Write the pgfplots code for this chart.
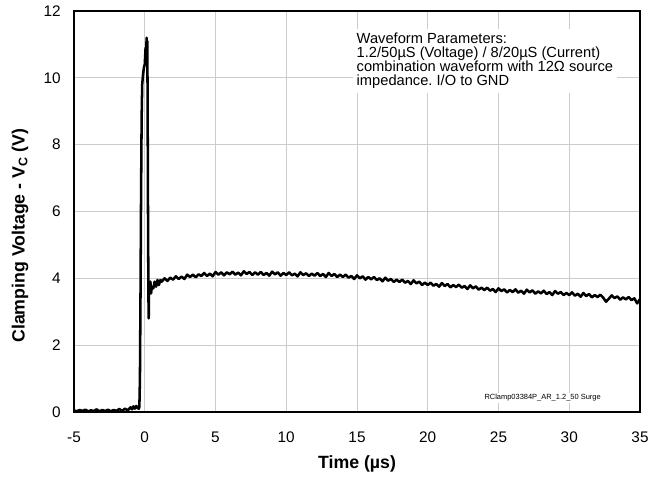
\documentclass[border=0pt]{standalone}
\usepackage{fontspec}
\setmainfont{Liberation Sans}
\usepackage{pgfplots}
\pgfplotsset{compat=1.18}
\begin{document}
\begin{tikzpicture}
\path[use as bounding box] (-55.5pt,-48.75pt) rectangle (442.5pt,309pt);
\begin{axis}[
 scale only axis, width=424.5pt, height=300.75pt,
 at={(0pt,0pt)}, anchor=south west,
 xmin=-5, xmax=35, ymin=0, ymax=12,
 xtick={-5,0,5,10,15,20,25,30,35}, xticklabels={-5,0,5,10,15,20,25,30,35},
 ytick={0,2,4,6,8,10,12}, yticklabels={0,2,4,6,8,10,12},
 major tick length=0pt,
 grid=major, grid style={draw=black!20, line width=0.75pt},
 axis line style={line width=1.1pt},
 tick label style={font=\fontsize{11.5}{13}\selectfont},
 xticklabel style={yshift=-11.5pt},
 yticklabel style={xshift=-6.5pt},
 xlabel={\textbf{Time (µs)}},
 ylabel={\textbf{Clamping Voltage - V\textsubscript{C} (V)}},
 label style={font=\fontsize{13.3}{15}\selectfont},
 xlabel style={at={(axis description cs:0.5,-0.13)}, anchor=center},
 ylabel style={at={(axis description cs:-0.0954,0.44)}, anchor=center},
]
\addplot[black, line width=1.9pt, line join=round] coordinates {
(-5.0,0.05) (-4.8,0.02) (-4.6,0.06) (-4.4,0.03) (-4.2,0.07) (-4.0,0.02)
(-3.8,0.05) (-3.6,0.03) (-3.4,0.08) (-3.2,0.02) (-3.0,0.06) (-2.8,0.03)
(-2.6,0.07) (-2.4,0.02) (-2.2,0.06) (-2.0,0.03) (-1.8,0.09) (-1.6,0.03)
(-1.4,0.10) (-1.2,0.05) (-1.0,0.14) (-0.9,0.08) (-0.8,0.17) (-0.7,0.10)
(-0.6,0.18) (-0.5,0.12) (-0.42,0.10) (-0.38,0.15)
(-0.34,1.0) (-0.30,3.5) (-0.26,6.5) (-0.22,8.8) (-0.18,9.8) (-0.12,10.1)
(-0.06,10.3) (0.0,10.4) (0.06,10.9) (0.10,10.5) (0.13,11.2) (0.16,10.4)
(0.18,11.1) (0.20,9.5) (0.23,6.0) (0.26,3.5) (0.28,2.8) (0.31,3.9)
(0.35,3.6) (0.40,3.9) (0.45,3.55) (0.50,3.75) (0.60,3.70) (0.70,3.90)
(0.80,3.75) (0.90,3.95) (1.00,3.80) (1.10,3.95) (1.20,3.90) (1.40,4.00)
(1.60,3.92) (1.80,4.02) (2.00,3.96)
(2.2,4.06) (2.4,3.98) (2.6,4.05) (2.8,3.98) (3.0,4.11)
(3.2,4.04) (3.4,4.11) (3.6,4.03) (3.8,4.12) (4.0,4.07)
(4.2,4.16) (4.4,4.07) (4.6,4.14) (4.8,4.06) (5.0,4.19)
(5.2,4.11) (5.4,4.18) (5.6,4.09) (5.8,4.18) (6.0,4.12)
(6.2,4.20) (6.4,4.11) (6.6,4.17) (6.8,4.09) (7.0,4.21)
(7.2,4.13) (7.4,4.19) (7.6,4.10) (7.8,4.18) (8.0,4.11)
(8.2,4.19) (8.4,4.10) (8.6,4.16) (8.8,4.08) (9.0,4.20)
(9.2,4.12) (9.4,4.18) (9.6,4.08) (9.8,4.16) (10.0,4.10)
(10.2,4.18) (10.4,4.09) (10.6,4.14) (10.8,4.06) (11.0,4.18)
(11.2,4.10) (11.4,4.15) (11.6,4.07) (11.8,4.14) (12.0,4.08)
(12.2,4.16) (12.4,4.07) (12.6,4.13) (12.8,4.04) (13.0,4.16)
(13.2,4.07) (13.4,4.13) (13.6,4.04) (13.8,4.11) (14.0,4.04)
(14.2,4.11) (14.4,4.02) (14.6,4.07) (14.8,3.98) (15.0,4.09)
(15.2,4.00) (15.4,4.06) (15.6,3.96) (15.8,4.04) (16.0,3.97)
(16.2,4.04) (16.4,3.95) (16.6,4.00) (16.8,3.91) (17.0,4.02)
(17.2,3.93) (17.4,3.98) (17.6,3.89) (17.8,3.96) (18.0,3.89)
(18.2,3.96) (18.4,3.87) (18.6,3.92) (18.8,3.83) (19.0,3.94)
(19.2,3.85) (19.4,3.90) (19.6,3.80) (19.8,3.87) (20.0,3.80)
(20.2,3.87) (20.4,3.78) (20.6,3.83) (20.8,3.75) (21.0,3.86)
(21.2,3.77) (21.4,3.83) (21.6,3.73) (21.8,3.80) (22.0,3.74)
(22.2,3.81) (22.4,3.72) (22.6,3.77) (22.8,3.68) (23.0,3.79)
(23.2,3.70) (23.4,3.76) (23.6,3.66) (23.8,3.72) (24.0,3.65)
(24.2,3.72) (24.4,3.63) (24.6,3.68) (24.8,3.59) (25.0,3.70)
(25.2,3.62) (25.4,3.67) (25.6,3.58) (25.8,3.65) (26.0,3.59)
(26.2,3.67) (26.4,3.57) (26.6,3.63) (26.8,3.54) (27.0,3.66)
(27.2,3.58) (27.4,3.64) (27.6,3.54) (27.8,3.61) (28.0,3.55)
(28.2,3.63) (28.4,3.53) (28.6,3.59) (28.8,3.50) (29.0,3.62)
(29.2,3.54) (29.4,3.59) (29.6,3.50) (29.8,3.56) (30.0,3.50)
(30.2,3.58) (30.4,3.48) (30.6,3.54) (30.8,3.45) (31.0,3.56)
(31.2,3.47) (31.4,3.53) (31.6,3.43) (31.8,3.50) (32.0,3.44)
(32.2,3.51) (32.4,3.42) (32.6,3.30) (32.8,3.39) (33.0,3.49)
(33.2,3.41) (33.4,3.46) (33.6,3.36) (33.8,3.43) (34.0,3.37)
(34.2,3.44) (34.4,3.35) (34.6,3.40) (34.8,3.25) (35.0,3.38)
};
\node[anchor=north west, fill=white, inner xsep=3pt, inner ysep=3pt, align=left,
  font=\fontsize{11}{10.6}\selectfont]
  at (axis description cs:0.492,0.957)
  {Waveform Parameters:\\1.2/50µS (Voltage) / 8/20µS (Current)\\combination waveform with 12Ω source\\impedance.\ I/O to GND};
\node[anchor=east, fill=white, inner sep=0.8pt, font=\fontsize{5.6}{6}\selectfont]
  at (axis description cs:0.933,0.035) {RClamp03384P\_AR\_1.2\_50 Surge};
\end{axis}
\end{tikzpicture}
\end{document}
